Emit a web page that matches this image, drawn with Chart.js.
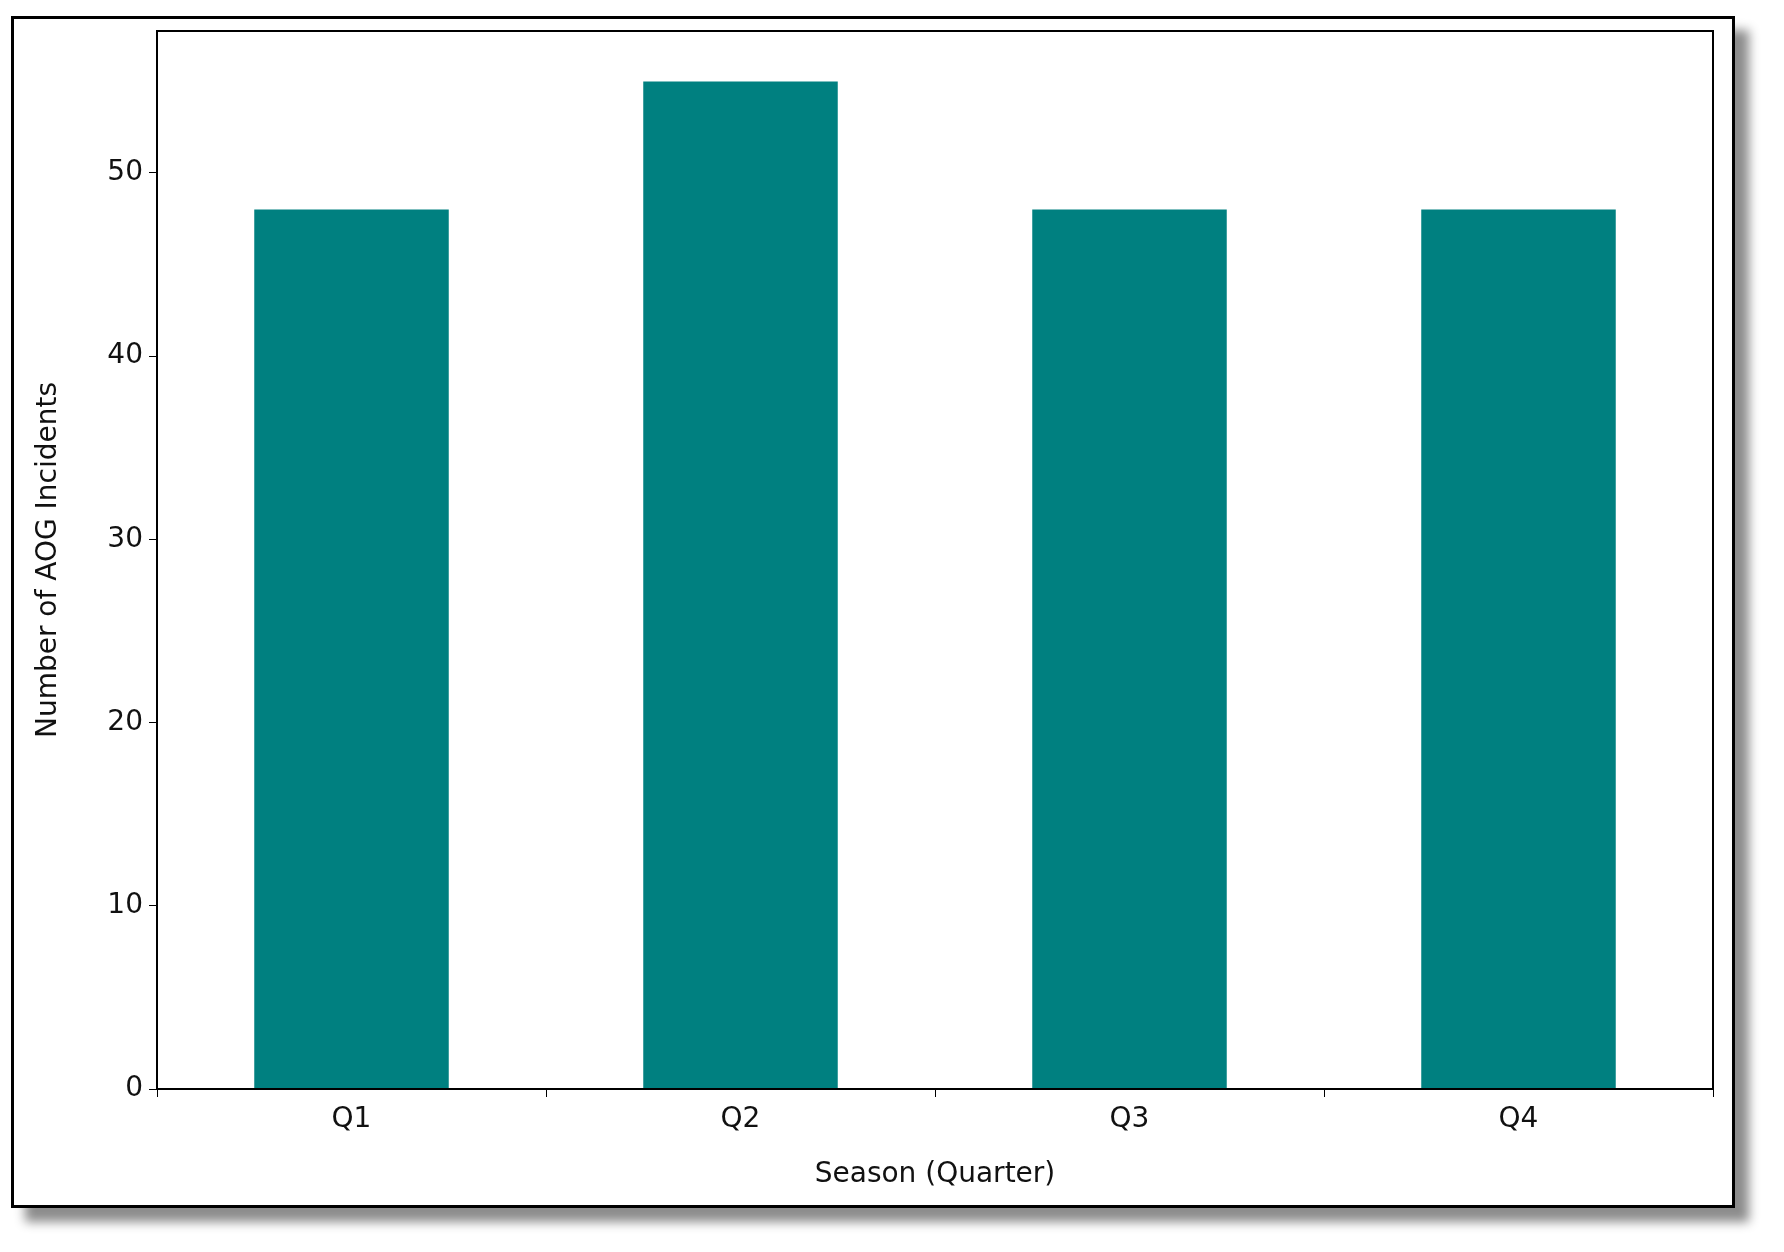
<!DOCTYPE html>
<html><head><meta charset="utf-8">
<script src="https://cdn.jsdelivr.net/npm/chart.js@4"></script>
<style>
html,body{margin:0;padding:0;background:#fff;width:1784px;height:1252px;overflow:hidden}
#frame{position:absolute;left:11px;top:16px;width:1718px;height:1186px;border:3px solid #000;background:#fff;box-shadow:14px 14px 10px rgba(0,0,0,0.45)}
#c{position:absolute;left:0;top:0}
</style></head><body>
<div id="frame"></div>
<canvas id="c" width="1784" height="1252"></canvas>
<script>
const categories = ['Q1','Q2','Q3','Q4'];
const incidents = [48, 55, 48, 48];
const yTicks = [0,10,20,30,40,50];
const F = 'DejaVu Sans';
const boxPlugin = {id:'box', afterDraw(c){const a=c.chartArea,x=c.ctx;x.save();x.strokeStyle='#000';x.lineWidth=2;x.strokeRect(a.left,a.top,a.right-a.left,a.bottom-a.top);x.restore();}};
new Chart(document.getElementById('c'), {
  type:'bar',
  data:{labels:categories, datasets:[{data:incidents, backgroundColor:'#008080', barPercentage:0.5, categoryPercentage:1}]},
  options:{responsive:false, animation:false,
    layout:{padding:{left:0,top:31,right:71,bottom:0}},
    plugins:{legend:{display:false}, tooltip:{enabled:false}},
    scales:{
      x:{grid:{drawOnChartArea:false,tickLength:8,color:'#000'},border:{display:false},
         ticks:{color:'#111',font:{family:F,size:28},padding:6},
         title:{display:true,text:'Season (Quarter)',color:'#111',font:{family:F,size:28},padding:{top:4,bottom:60}},
         afterFit(s){s.height=163;}},
      y:{min:0,max:57.75,grid:{drawOnChartArea:false,tickLength:8,color:'#000'},border:{display:false},
         afterBuildTicks(s){s.ticks=yTicks.map(v=>({value:v}));},
         ticks:{color:'#111',font:{family:F,size:28},padding:6},
         title:{display:true,text:'Number of AOG Incidents',color:'#111',font:{family:F,size:28},padding:{top:32,bottom:4}},
         afterFit(s){s.width=157;}}
    }},
  plugins:[boxPlugin]
});
</script></body></html>
